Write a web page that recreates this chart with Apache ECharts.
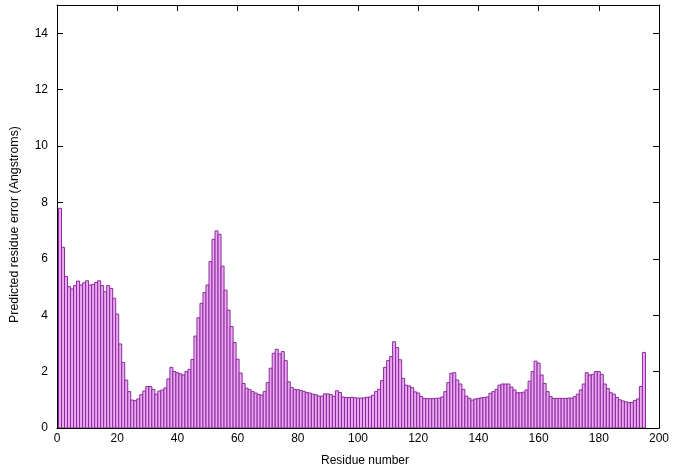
<!DOCTYPE html>
<html>
<head>
<meta charset="utf-8">
<script src="https://cdn.jsdelivr.net/npm/echarts@6/dist/echarts.min.js"></script>
<style>
html,body{margin:0;padding:0;background:#fff;}
#chart{width:675px;height:472px;}
</style>
</head>
<body>
<div id="chart"></div>
<script>
// Residue numbers start at 1; one value per residue
const firstResidue = 1;
const residueError = [
  7.79, 6.41, 5.37, 5.01, 4.93, 5.05, 5.21, 5.07, 5.15, 5.22,
  5.07, 5.09, 5.16, 5.22, 5.05, 4.83, 5.05, 4.95, 4.60, 4.04,
  2.98, 2.32, 1.70, 1.29, 0.99, 0.97, 1.03, 1.18, 1.31, 1.47,
  1.47, 1.37, 1.20, 1.31, 1.35, 1.42, 1.74, 2.15, 2.00, 1.96,
  1.92, 1.88, 2.00, 2.08, 2.43, 3.26, 3.91, 4.42, 4.80, 5.07,
  5.90, 6.69, 6.99, 6.87, 5.74, 4.89, 4.18, 3.60, 3.03, 2.44,
  1.95, 1.58, 1.41, 1.36, 1.29, 1.24, 1.19, 1.17, 1.29, 1.61,
  2.12, 2.65, 2.79, 2.63, 2.71, 2.39, 1.64, 1.44, 1.37, 1.36,
  1.33, 1.30, 1.26, 1.24, 1.20, 1.18, 1.13, 1.13, 1.21, 1.21,
  1.18, 1.12, 1.32, 1.26, 1.10, 1.08, 1.08, 1.09, 1.07, 1.06,
  1.06, 1.07, 1.09, 1.10, 1.16, 1.29, 1.37, 1.68, 2.15, 2.39,
  2.53, 3.06, 2.85, 2.42, 1.76, 1.52, 1.49, 1.43, 1.28, 1.24,
  1.12, 1.05, 1.04, 1.04, 1.04, 1.05, 1.06, 1.10, 1.29, 1.61,
  1.94, 1.96, 1.70, 1.56, 1.37, 1.13, 1.05, 0.99, 1.03, 1.05,
  1.07, 1.08, 1.10, 1.23, 1.29, 1.37, 1.52, 1.56, 1.56, 1.56,
  1.45, 1.35, 1.25, 1.25, 1.27, 1.35, 1.66, 2.00, 2.37, 2.30,
  1.88, 1.58, 1.29, 1.11, 1.05, 1.05, 1.05, 1.05, 1.05, 1.06,
  1.06, 1.11, 1.20, 1.35, 1.56, 1.96, 1.88, 1.90, 2.00, 2.00,
  1.90, 1.56, 1.40, 1.25, 1.20, 1.08, 1.00, 0.96, 0.93, 0.90,
  0.90, 0.97, 1.03, 1.47, 2.68
];
const xTicks = [0, 200, 20];   // min, max, interval
const yTicks = [0, 15, 2];     // min, max, interval

const xTitle = 'Residue number';
const yTitle = 'Predicted residue error (Angstroms)';

const data = residueError.map((v, i) => [firstResidue + i, v]);

const chart = echarts.init(document.getElementById('chart'), null, {renderer: 'canvas'});
const FONT = 'Liberation Sans, Arial, sans-serif';
function axisCommon() {
  return {
    axisLine: {show: true, onZero: false, lineStyle: {color: '#000', width: 1}},
    axisTick: {show: true, inside: true, length: 6, lineStyle: {color: '#000'}},
    splitLine: {show: false},
  };
}
chart.setOption({
  animation: false,
  backgroundColor: '#fff',
  grid: {left: 57, right: 16, top: 5, bottom: 44},
  xAxis: [
    Object.assign({
      type: 'value', min: xTicks[0], max: xTicks[1], interval: xTicks[2],
      position: 'bottom',
      name: xTitle, nameLocation: 'middle', nameGap: 27,
      nameTextStyle: {color: '#000', fontSize: 12, fontFamily: FONT, padding: [0, 0, 0, 14]},
      axisLabel: {color: '#000', fontSize: 12, fontFamily: FONT, margin: 5},
    }, axisCommon()),
    Object.assign({
      type: 'value', min: xTicks[0], max: xTicks[1], interval: xTicks[2],
      position: 'top', axisLabel: {show: false},
    }, axisCommon())
  ],
  yAxis: [
    Object.assign({
      type: 'value', min: yTicks[0], max: yTicks[1], interval: yTicks[2],
      position: 'left',
      name: yTitle, nameLocation: 'middle', nameGap: 36,
      nameTextStyle: {color: '#000', fontSize: 12.4, fontFamily: FONT, padding: [0, 16, 0, 0]},
      axisLabel: {color: '#000', fontSize: 12, fontFamily: FONT, margin: 9,
        showMaxLabel: false},
    }, axisCommon()),
    Object.assign({
      type: 'value', min: yTicks[0], max: yTicks[1], interval: yTicks[2],
      position: 'right', axisLabel: {show: false},
    }, axisCommon())
  ],
  series: [{
    type: 'custom',
    xAxisIndex: 0, yAxisIndex: 0,
    clip: true,
    data: data,
    encode: {x: 0, y: 1},
    renderItem: function (params, api) {
      const x = api.value(0), v = api.value(1);
      const pTop = api.coord([x - 0.5, v]);
      const pBot = api.coord([x + 0.5, 0]);
      return {
        type: 'rect',
        shape: {x: pTop[0], y: pTop[1], width: pBot[0] - pTop[0], height: pBot[1] - pTop[1]},
        style: {fill: '#eca9f3', stroke: '#8a2a9c', lineWidth: 1}
      };
    }
  }]
});
</script>
</body>
</html>
